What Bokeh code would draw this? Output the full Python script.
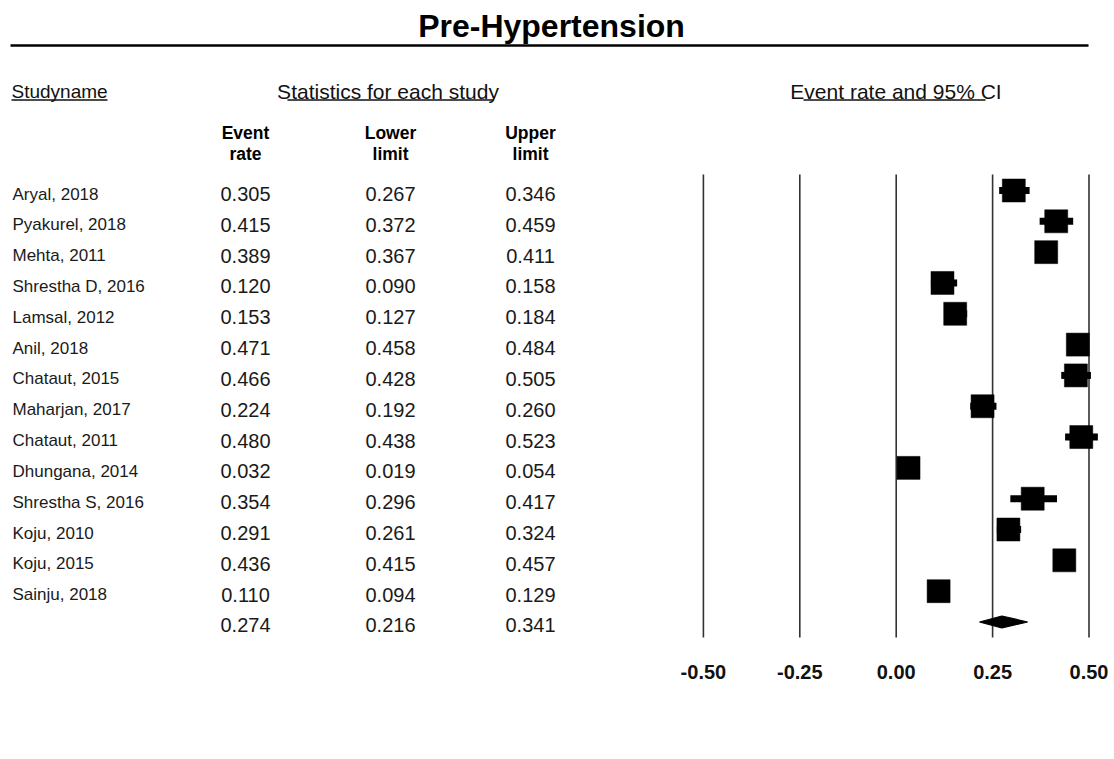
from bokeh.plotting import figure
from bokeh.models import ColumnDataSource, Range1d, FixedTicker, NumeralTickFormatter
from bokeh.core.properties import value
from bokeh.embed import file_html
from bokeh.resources import INLINE

# ---------------- data ----------------
studies = ["Aryal, 2018", "Pyakurel, 2018", "Mehta, 2011", "Shrestha D, 2016",
           "Lamsal, 2012", "Anil, 2018", "Chataut, 2015", "Maharjan, 2017",
           "Chataut, 2011", "Dhungana, 2014", "Shrestha S, 2016", "Koju, 2010",
           "Koju, 2015", "Sainju, 2018"]
event_rate = [0.305, 0.415, 0.389, 0.120, 0.153, 0.471, 0.466, 0.224,
              0.480, 0.032, 0.354, 0.291, 0.436, 0.110]
lower_limit = [0.267, 0.372, 0.367, 0.090, 0.127, 0.458, 0.428, 0.192,
               0.438, 0.019, 0.296, 0.261, 0.415, 0.094]
upper_limit = [0.346, 0.459, 0.411, 0.158, 0.184, 0.484, 0.505, 0.260,
               0.523, 0.054, 0.417, 0.324, 0.457, 0.129]
summary_rate = 0.274
summary_lower = 0.216
summary_upper = 0.341
axis_ticks = [-0.50, -0.25, 0.00, 0.25, 0.50]

title_text = "Pre-Hypertension"
col_study = "Studyname"
col_stats = "Statistics for each study"
col_plot = "Event rate and 95% CI"
sub_heads_1 = ["Event", "Lower", "Upper"]
sub_heads_2 = ["rate", "limit", "limit"]

# ---------------- layout helpers (pixel -> data) ----------------
W, H = 1114, 759
FRAME_H = 650
X0, PXU = 895.7, 385.6          # pixel of 0.00 and pixels per unit
ROW0, ROWH = 190.0, 30.82       # pixel centre of first row, row height


def X(px):
    return (px - X0) / PXU


def Y(py):
    return (py - ROW0) / ROWH


FONT = value("Liberation Sans")

p = figure(width=W, height=H,
           x_range=Range1d(X(0), X(W)), y_range=Range1d(Y(FRAME_H), Y(0)),
           output_backend="svg", toolbar_location=None,
           min_border_left=0, min_border_right=0, min_border_top=0,
           min_border_bottom=H - FRAME_H, y_axis_location=None)
p.grid.visible = False
p.outline_line_color = None
p.background_fill_color = "white"
p.border_fill_color = "white"

ax = p.xaxis[0]
ax.ticker = FixedTicker(ticks=axis_ticks)
ax.formatter = NumeralTickFormatter(format="0.00")
ax.axis_line_color = None
ax.major_tick_line_color = None
ax.minor_tick_line_color = None
ax.major_label_text_font = "Liberation Sans"
ax.major_label_text_font_size = "20px"
ax.major_label_text_font_style = "bold"
ax.major_label_text_color = "#111111"
ax.major_label_standoff = 8

n = len(studies)
rows = list(range(n))

# ---------------- title and rule ----------------
p.text(x=[X(551)], y=[Y(25)], text=[title_text], text_font=FONT,
       text_font_size="32px", text_font_style="bold", text_align="center",
       text_baseline="middle", text_color="black")
p.segment(x0=[X(10)], x1=[X(1088)], y0=[Y(45)], y1=[Y(45)],
          line_width=2.5, line_color="black")

# ---------------- column headers ----------------
HB = Y(91)
p.text(x=[X(11)], y=[HB], text=[col_study], text_font=FONT,
       text_font_size="19px", text_align="left", text_baseline="middle",
       text_color="#111111")
p.text(x=[X(387.5), X(895.5)], y=[HB, HB], text=[col_stats, col_plot],
       text_font=FONT, text_font_size="21px", text_align="center",
       text_baseline="middle", text_color="#111111")
UL = Y(99.5)
p.segment(x0=[X(11), X(287), X(803)], x1=[X(107), X(493), X(985)],
          y0=[UL] * 3, y1=[UL] * 3, line_width=1.5, line_color="#111111")

col_x = [X(245), X(390), X(530)]
p.text(x=col_x, y=[Y(132.7)] * 3, text=sub_heads_1, text_font=FONT,
       text_font_size="17.5px", text_font_style="bold", text_align="center",
       text_baseline="middle", text_color="black")
p.text(x=col_x, y=[Y(153.2)] * 3, text=sub_heads_2, text_font=FONT,
       text_font_size="17.5px", text_font_style="bold", text_align="center",
       text_baseline="middle", text_color="black")

# ---------------- table rows ----------------
base_off = 3.5 / ROWH
src = ColumnDataSource(dict(
    row=rows,
    base=[r + base_off for r in rows],
    name=studies,
    er=event_rate, lo=lower_limit, hi=upper_limit,
    er_s=["%.3f" % v for v in event_rate],
    lo_s=["%.3f" % v for v in lower_limit],
    hi_s=["%.3f" % v for v in upper_limit],
))
p.text(x=X(12), y="base", text="name", source=src, text_font=FONT,
       text_font_size="17px", text_align="left", text_baseline="middle",
       text_color="#1a1a1a")
for cx, col in zip(col_x, ["er_s", "lo_s", "hi_s"]):
    p.text(x=cx, y="base", text=col, source=src, text_font=FONT,
           text_font_size="20px", text_align="center",
           text_baseline="middle", text_color="#1a1a1a")

sum_row = n
sum_src = ColumnDataSource(dict(
    x=col_x, y=[sum_row + base_off] * 3,
    t=["%.3f" % summary_rate, "%.3f" % summary_lower, "%.3f" % summary_upper]))
p.text(x="x", y="y", text="t", source=sum_src, text_font=FONT,
       text_font_size="20px", text_align="center", text_baseline="middle",
       text_color="#1a1a1a")

# ---------------- forest plot ----------------
p.segment(x0=axis_ticks, x1=axis_ticks, y0=[Y(174)] * len(axis_ticks),
          y1=[Y(637)] * len(axis_ticks), line_width=1.6, line_color="#333333")

p.segment(x0="lo", x1="hi", y0="row", y1="row", source=src,
          line_width=7, line_color="black", line_cap="butt")
p.scatter(x="er", y="row", source=src, marker="square", size=23,
          fill_color="black", line_color="black", line_width=0.5)

dh = 6.0 / ROWH
p.patch(x=[summary_lower, summary_rate, summary_upper, summary_rate],
        y=[sum_row, sum_row - dh, sum_row, sum_row + dh],
        fill_color="black", line_color="black", line_width=1.2)

open("out.html", "w").write(file_html(p, INLINE))
